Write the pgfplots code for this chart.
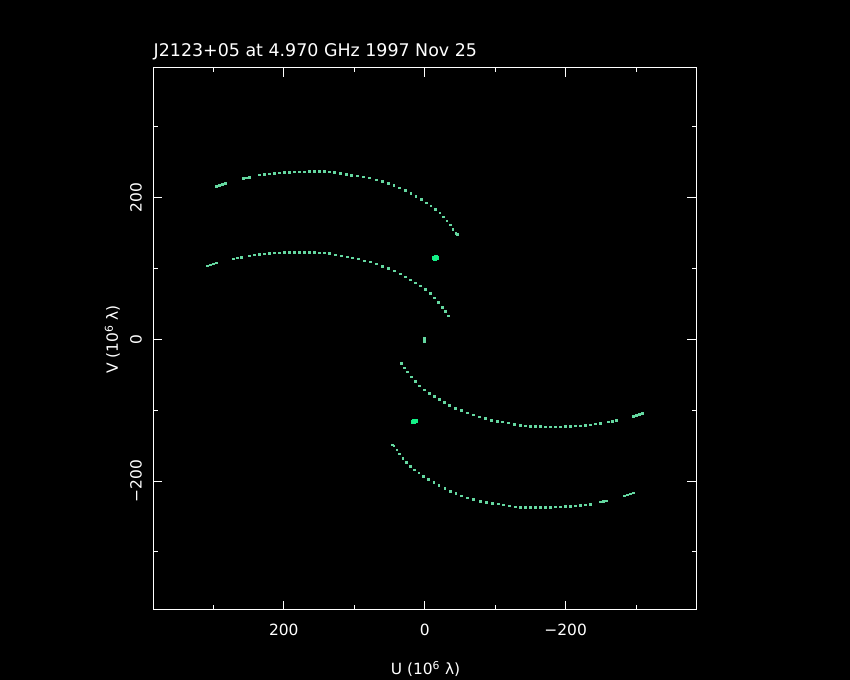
\documentclass[border=0pt]{standalone}
\usepackage{fontspec}
\setmainfont{DejaVu Sans}
\usepackage{pgfplots}
\pgfplotsset{compat=1.18}

\definecolor{trk}{RGB}{100,215,160}
\definecolor{spot}{RGB}{20,240,135}
\tikzset{uvdot/.style={only marks, mark=square*, mark size=0.75bp, color=trk, mark options={draw=none, fill=trk}}}

\begin{document}
\begin{tikzpicture}[x=1bp,y=1bp]
% page: axis box lower-left corner sits at (0,0)
\fill[black] (-153.5,-70) rectangle (696.5,610);
\begin{axis}[
    width=542.5bp, height=542bp, scale only axis,
    x dir=reverse,
    xmin=-385, xmax=385, ymin=-382, ymax=383,
    axis line style={white, line width=1bp},
    tick style={white, line width=1bp},
    major tick length=9bp, minor tick length=4.5bp,
    xtick={-200,0,200}, xticklabels={−200,0,200},
    ytick={-200,0,200}, yticklabels={−200,0,200},
    minor xtick={-300,-100,100,300},
    minor ytick={-300,-100,100,300},
    tick label style={white, font=\fontsize{15.5}{18}\selectfont, inner sep=0pt},
    xticklabel style={anchor=base}, xticklabel shift=26bp,
    yticklabel style={rotate=90, anchor=base}, yticklabel shift=11.8bp,
    clip=false,
]
% track A (and its conjugate D)
\addplot[uvdot] coordinates {
(295.9,216.2)(291.7,217.6)(287.4,219.0)(283.2,220.4)(257.6,227.5)(253.4,228.2)(249.1,228.9)
(234.9,232.4)(227.8,233.1)(220.7,233.8)(213.6,234.5)(206.5,235.3)(199.4,235.7)(192.3,236.0)
(185.2,236.4)(178.1,236.7)(171.0,236.9)(163.9,237.1)(156.8,237.2)(149.7,237.2)(142.6,237.1)
(135.6,236.8)(128.5,236.0)(119.9,234.5)(111.4,233.1)(104.3,231.7)(95.8,231.0)(87.3,229.6)
(78.8,228.2)(68.8,225.4)(60.3,223.3)(52.0,220.6)(44.0,217.5)(36.2,214.0)(28.0,210.2)
(20.0,206.0)(12.5,201.8)(5.0,197.5)(-2.0,193.0)(-8.5,188.5)(-15.0,183.8)(-21.0,178.8)
(-26.5,173.3)(-31.5,167.5)(-36.0,161.5)(-40.0,155.5)(-44.0,150.0)(-46.1,148.5)
};
\addplot[uvdot] coordinates {
(-295.9,-216.2)(-291.7,-217.6)(-287.4,-219.0)(-283.2,-220.4)(-257.6,-227.5)(-253.4,-228.2)(-249.1,-228.9)
(-234.9,-232.4)(-227.8,-233.1)(-220.7,-233.8)(-213.6,-234.5)(-206.5,-235.3)(-199.4,-235.7)(-192.3,-236.0)
(-185.2,-236.4)(-178.1,-236.7)(-171.0,-236.9)(-163.9,-237.1)(-156.8,-237.2)(-149.7,-237.2)(-142.6,-237.1)
(-135.6,-236.8)(-128.5,-236.0)(-119.9,-234.5)(-111.4,-233.1)(-104.3,-231.7)(-95.8,-231.0)(-87.3,-229.6)
(-78.8,-228.2)(-68.8,-225.4)(-60.3,-223.3)(-52.0,-220.6)(-44.0,-217.5)(-36.2,-214.0)(-28.0,-210.2)
(-20.0,-206.0)(-12.5,-201.8)(-5.0,-197.5)(2.0,-193.0)(8.5,-188.5)(15.0,-183.8)(21.0,-178.8)
(26.5,-173.3)(31.5,-167.5)(36.0,-161.5)(40.0,-155.5)(44.0,-150.0)(46.1,-148.5)
};
% track B (and its conjugate C)
\addplot[uvdot] coordinates {
(308.7,104.1)(304.5,105.5)(300.2,106.9)(295.9,108.3)(271.8,114.0)(266.1,115.4)(260.5,116.1)
(249.1,118.2)(242.0,119.3)(234.9,120.3)(227.8,121.0)(220.7,121.7)(213.6,122.1)(206.5,122.6)
(199.4,122.8)(192.3,123.1)(185.2,123.1)(178.1,123.1)(171.0,123.0)(163.9,122.8)(156.8,122.7)
(149.7,122.4)(142.6,122.0)(135.6,121.3)(127.0,119.6)(118.5,117.9)(110.0,116.5)(102.9,115.4)
(94.4,114.0)(85.9,111.1)(77.4,109.3)(68.8,106.5)(60.3,103.4)(51.8,100.1)(43.3,97.0)
(34.8,92.8)(27.7,88.6)(20.6,84.3)(13.5,80.1)(6.4,75.9)(-0.7,70.9)(-7.8,65.3)
(-13.5,59.0)(-19.2,52.6)(-24.8,45.6)(-29.1,39.9)(-33.4,33.6)
};
\addplot[uvdot] coordinates {
(-308.7,-104.1)(-304.5,-105.5)(-300.2,-106.9)(-295.9,-108.3)(-271.8,-114.0)(-266.1,-115.4)(-260.5,-116.1)
(-249.1,-118.2)(-242.0,-119.3)(-234.9,-120.3)(-227.8,-121.0)(-220.7,-121.7)(-213.6,-122.1)(-206.5,-122.6)
(-199.4,-122.8)(-192.3,-123.1)(-185.2,-123.1)(-178.1,-123.1)(-171.0,-123.0)(-163.9,-122.8)(-156.8,-122.7)
(-149.7,-122.4)(-142.6,-122.0)(-135.6,-121.3)(-127.0,-119.6)(-118.5,-117.9)(-110.0,-116.5)(-102.9,-115.4)
(-94.4,-114.0)(-85.9,-111.1)(-77.4,-109.3)(-68.8,-106.5)(-60.3,-103.4)(-51.8,-100.1)(-43.3,-97.0)
(-34.8,-92.8)(-27.7,-88.6)(-20.6,-84.3)(-13.5,-80.1)(-6.4,-75.9)(0.7,-70.9)(7.8,-65.3)
(13.5,-59.0)(19.2,-52.6)(24.8,-45.6)(29.1,-39.9)(33.4,-33.6)
};
% short baselines
\addplot[uvdot, mark size=1.5bp, color=spot, mark options={draw=none, fill=spot}] coordinates {
(-13,115)(-15,116)(-17,115.5)(-14,114.3)(-16,114.6)
(13,-115.5)(15,-116.5)(17,-116)(14,-114.8)(16,-115.1)
};
\addplot[uvdot] coordinates {
(0.7,1.4)(0.7,-0.5)(0.7,-2.4)
};
\end{axis}
\node[white, anchor=base west, inner sep=0pt, font=\fontsize{17.5}{20}\selectfont] at (0,553.3) {J2123+05 at 4.970 GHz 1997 Nov 25};
\node[white, anchor=base, inner sep=0pt, font=\fontsize{15.5}{18}\selectfont] at (272,-65) {U (10\textsuperscript{6} λ)};
\node[white, anchor=base, rotate=90, inner sep=0pt, font=\fontsize{15.5}{18}\selectfont] at (-35.5,270.7) {V (10\textsuperscript{6} λ)};
\pgfresetboundingbox
\path[use as bounding box] (-153.5,-70) rectangle (696.5,610);
\end{tikzpicture}
\end{document}
